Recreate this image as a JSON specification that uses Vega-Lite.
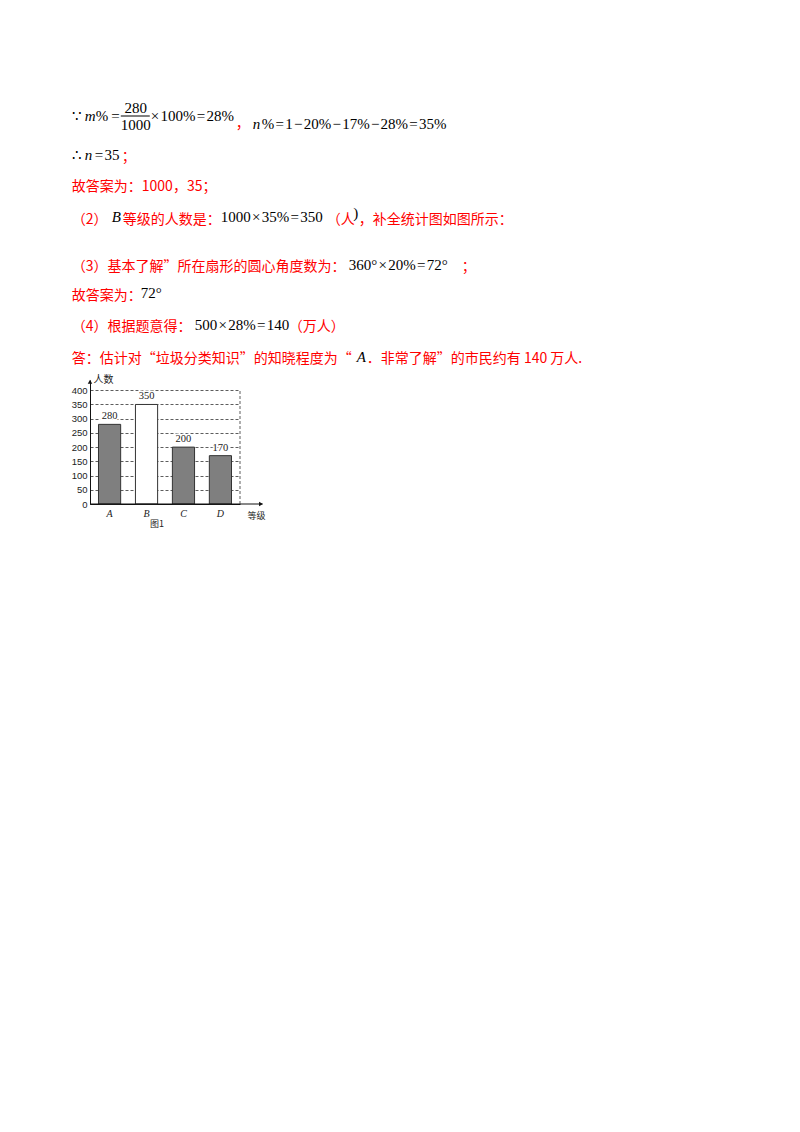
{
  "$schema": "https://vega.github.io/schema/vega-lite/v6.json",
  "description": "Worked answer page with bar chart 图1",
  "background": "white",
  "padding": {"left": 71, "top": 20, "right": 5, "bottom": 5},
  "bounds": "flush",
  "spacing": 10,
  "config": {"view": {"stroke": null}},
  "vconcat": [
    {
      "width": 560,
      "height": 350,
      "data": {
        "values": [
          {"line": 1, "col": 0, "kind": "math", "text": "∵"},
          {"line": 1, "col": 0.93, "kind": "var", "text": "m"},
          {"line": 1, "col": 1.71, "kind": "math", "text": "%\u2009="},
          {"line": 1, "col": 4.57, "kind": "num", "text": "280"},
          {"line": 1, "col": 4.57, "kind": "den", "text": "1000"},
          {"line": 1, "col": 3.5, "col2": 5.57, "kind": "frac", "text": ""},
          {"line": 1, "col": 5.64, "kind": "math", "text": "×\u200a100%\u200a=\u200a28%"},
          {"line": 1.26, "col": 11.71, "kind": "cn", "text": "，"},
          {"line": 1.26, "col": 12.93, "kind": "var", "text": "n"},
          {"line": 1.26, "col": 13.57, "kind": "math", "text": "%\u200a=\u200a1\u200a−\u200a20%\u200a−\u200a17%\u200a−\u200a28%\u200a=\u200a35%"},
          {"line": 2.25, "col": 0, "kind": "math", "text": "∴"},
          {"line": 2.25, "col": 0.93, "kind": "var", "text": "n"},
          {"line": 2.25, "col": 1.64, "kind": "math", "text": "=\u200a35"},
          {"line": 2.3, "col": 3.57, "kind": "cn", "text": "；"},
          {"line": 3.28, "col": 0, "kind": "cn", "text": "故答案为：1000，35；"},
          {"line": 4.33, "col": 0, "kind": "cn", "text": "（2）"},
          {"line": 4.25, "col": 2.86, "kind": "var", "text": "B"},
          {"line": 4.33, "col": 3.64, "kind": "cn", "text": "等级的人数是："},
          {"line": 4.25, "col": 10.64, "kind": "math", "text": "1000\u200a×\u200a35%\u200a=\u200a350"},
          {"line": 4.33, "col": 18.21, "kind": "cn", "text": "（人"},
          {"line": 4.1, "col": 20.1, "kind": "math", "text": ")"},
          {"line": 4.33, "col": 20.5, "kind": "cn", "text": "，补全统计图如图所示："},
          {"line": 5.84, "col": 0, "kind": "cn", "text": "（3）基本了解”所在扇形的圆心角度数为："},
          {"line": 5.78, "col": 19.79, "kind": "math", "text": "360°\u200a×\u200a20%\u200a=\u200a72°"},
          {"line": 5.84, "col": 27.85, "kind": "cn", "text": "；"},
          {"line": 6.77, "col": 0, "kind": "cn", "text": "故答案为："},
          {"line": 6.67, "col": 4.93, "kind": "math", "text": "72°"},
          {"line": 7.76, "col": 0, "kind": "cn", "text": "（4）根据题意得："},
          {"line": 7.7, "col": 8.79, "kind": "math", "text": "500\u200a×\u200a28%\u200a=\u200a140"},
          {"line": 7.76, "col": 15.5, "kind": "cn", "text": "（万人）"},
          {"line": 8.79, "col": 0, "kind": "cn", "text": "答：估计对“垃圾分类知识”的知晓程度为“"},
          {"line": 8.72, "col": 20.36, "kind": "var", "text": "A"},
          {"line": 8.79, "col": 21.07, "kind": "cn", "text": "．非常了解”的市民约有 140 万人."}
        ]
      },
      "encoding": {
        "x": {"field": "col", "type": "quantitative", "scale": {"domain": [1.3, 41.3]}, "axis": null},
        "y": {"field": "line", "type": "quantitative", "scale": {"domain": [-2.077, 9.141], "reverse": true}, "axis": null}
      },
      "layer": [
        {
          "transform": [{"filter": "datum.kind === 'frac'"}],
          "mark": {"type": "rule", "color": "#000", "strokeWidth": 1},
          "encoding": {"x2": {"field": "col2"}}
        },
        {
          "transform": [{"filter": "datum.kind === 'cn'"}],
          "mark": {"type": "text", "align": "left", "baseline": "middle", "font": "Noto Sans CJK SC", "fontSize": 14, "color": "#ff0000"},
          "encoding": {"text": {"field": "text"}}
        },
        {
          "transform": [{"filter": "datum.kind === 'math'"}],
          "mark": {"type": "text", "align": "left", "baseline": "middle", "font": "Liberation Serif, DejaVu Serif", "fontSize": 15, "color": "#000"},
          "encoding": {"text": {"field": "text"}}
        },
        {
          "transform": [{"filter": "datum.kind === 'var'"}],
          "mark": {"type": "text", "align": "left", "baseline": "middle", "font": "Liberation Serif", "fontStyle": "italic", "fontSize": 15, "color": "#000"},
          "encoding": {"text": {"field": "text"}}
        },
        {
          "transform": [{"filter": "datum.kind === 'num'"}],
          "mark": {"type": "text", "align": "center", "baseline": "middle", "dy": -8, "font": "Liberation Serif", "fontSize": 15, "color": "#000"},
          "encoding": {"text": {"field": "text"}}
        },
        {
          "transform": [{"filter": "datum.kind === 'den'"}],
          "mark": {"type": "text", "align": "center", "baseline": "middle", "dy": 9, "font": "Liberation Serif", "fontSize": 15, "color": "#000"},
          "encoding": {"text": {"field": "text"}}
        }
      ]
    },
    {
      "width": 150,
      "height": 124,
      "title": {"text": "图1", "orient": "bottom", "anchor": "middle", "dx": -8, "offset": 0, "font": "Noto Sans CJK SC", "fontSize": 9, "fontWeight": "normal", "color": "#222"},
      "resolve": {"scale": {"x": "independent"}, "axis": {"y": "independent"}},
      "layer": [
        {
          "data": {
            "values": [
              {"grade": "A", "people": 280},
              {"grade": "B", "people": 350},
              {"grade": "C", "people": 200},
              {"grade": "D", "people": 170}
            ]
          },
          "encoding": {
            "x": {
              "field": "grade",
              "type": "nominal",
              "scale": {"paddingInner": 0.4, "paddingOuter": 0.23},
              "axis": {
                "title": "等级",
                "titleX": 157,
                "titleY": 11,
                "titleAlign": "left",
                "titleBaseline": "middle",
                "titleFont": "Noto Sans CJK SC",
                "titleFontSize": 9,
                "titleFontWeight": "normal",
                "titleColor": "#222",
                "labelAngle": 0,
                "labelFont": "Liberation Serif",
                "labelFontStyle": "italic",
                "labelFontSize": 10,
                "labelColor": "#222",
                "labelPadding": 4,
                "ticks": false,
                "domainColor": "#111"
              }
            },
            "y": {
              "field": "people",
              "type": "quantitative",
              "scale": {"domain": [0, 436], "nice": false},
              "axis": {
                "values": [0, 50, 100, 150, 200, 250, 300, 350, 400],
                "labelOverlap": false,
                "labelFlush": false,
                "title": "人数",
                "titleAngle": 0,
                "titleX": 3,
                "titleY": -1,
                "titleAlign": "left",
                "titleBaseline": "middle",
                "titleFont": "Noto Sans CJK SC",
                "titleFontSize": 10,
                "titleFontWeight": "normal",
                "titleColor": "#222",
                "labelFont": "Liberation Sans",
                "labelFontSize": 9.5,
                "labelColor": "#222",
                "labelPadding": 3,
                "ticks": false,
                "domainColor": "#111",
                "grid": true,
                "gridColor": "#333",
                "gridDash": [3, 2],
                "gridWidth": 0.8
              }
            }
          },
          "layer": [
            {
              "mark": {"type": "bar", "stroke": "#333", "strokeWidth": 1},
              "encoding": {
                "fill": {"condition": {"test": "datum.grade === 'B'", "value": "#ffffff"}, "value": "#7f7f7f"}
              }
            },
            {
              "mark": {"type": "text", "baseline": "bottom", "dy": -3, "font": "Liberation Serif", "fontSize": 10.5, "stroke": "white", "strokeWidth": 3, "color": "white"},
              "encoding": {"text": {"field": "people"}}
            },
            {
              "mark": {"type": "text", "baseline": "bottom", "dy": -3, "font": "Liberation Serif", "fontSize": 10.5, "color": "#222"},
              "encoding": {"text": {"field": "people"}}
            }
          ]
        },
        {
          "data": {"values": [{}]},
          "layer": [
            {
              "mark": {"type": "rule", "color": "#111", "strokeWidth": 1},
              "encoding": {
                "x": {"datum": 0, "type": "quantitative", "scale": {"domain": [0, 1]}, "axis": null},
                "x2": {"datum": 1.15},
                "y": {"datum": 0, "type": "quantitative", "axis": null}
              }
            },
            {
              "mark": {"type": "rule", "color": "#333", "strokeWidth": 0.8, "strokeDash": [3, 2]},
              "encoding": {
                "x": {"datum": 1, "type": "quantitative", "scale": {"domain": [0, 1]}, "axis": null},
                "y": {"datum": 0, "type": "quantitative", "axis": null},
                "y2": {"datum": 400}
              }
            },
            {
              "mark": {"type": "point", "shape": "triangle-right", "filled": true, "size": 20, "color": "#111", "opacity": 1},
              "encoding": {
                "x": {"datum": 1.14, "type": "quantitative", "scale": {"domain": [0, 1]}, "axis": null},
                "y": {"datum": 0, "type": "quantitative", "axis": null}
              }
            },
            {
              "mark": {"type": "point", "shape": "triangle-up", "filled": true, "size": 20, "color": "#111", "opacity": 1},
              "encoding": {
                "x": {"datum": 0, "type": "quantitative", "scale": {"domain": [0, 1]}, "axis": null},
                "y": {"datum": 430, "type": "quantitative", "axis": null}
              }
            }
          ]
        }
      ]
    }
  ]
}
